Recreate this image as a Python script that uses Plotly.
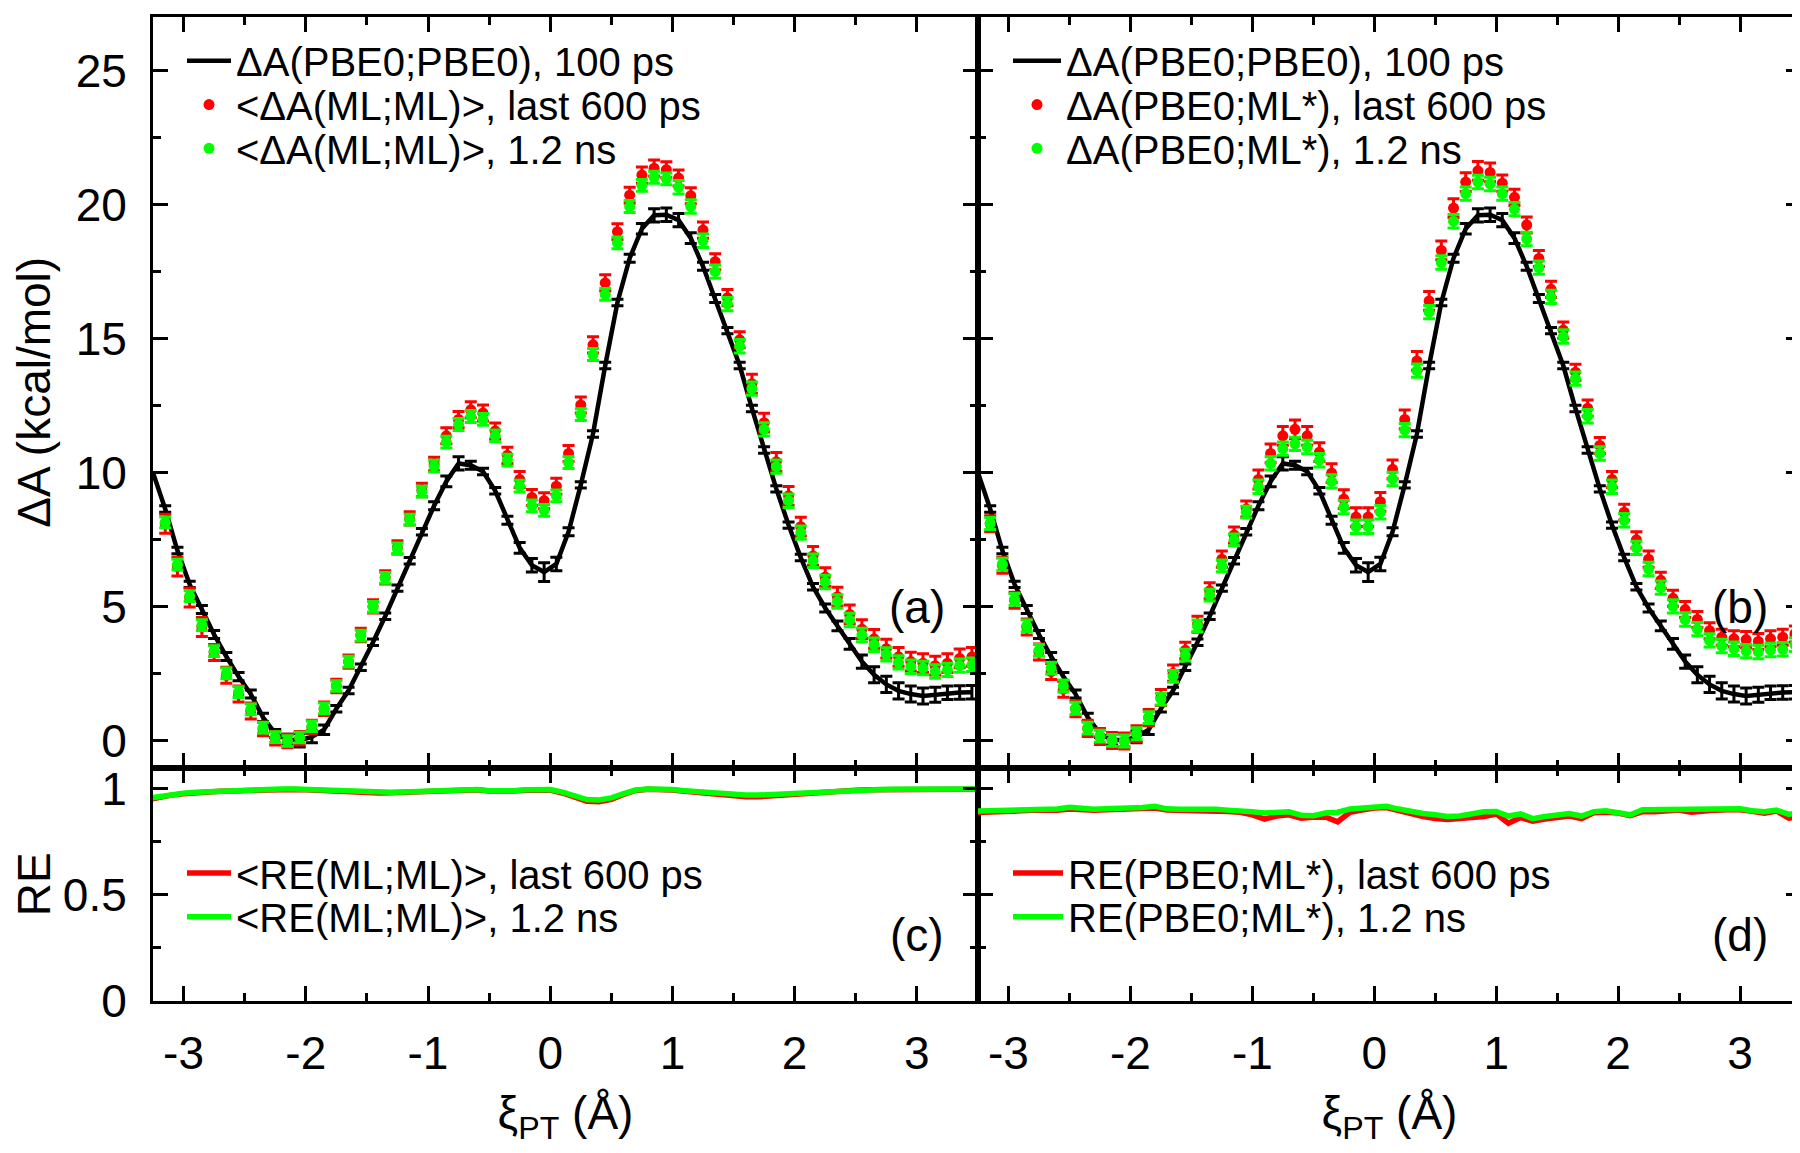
import plotly.graph_objects as go

# ---------------- data ----------------
xi = [-3.15, -3.05, -2.95, -2.85, -2.75, -2.65, -2.55, -2.45, -2.35, -2.25,
      -2.15, -2.05, -1.95, -1.85, -1.75, -1.65, -1.55, -1.45, -1.35, -1.25,
      -1.15, -1.05, -0.95, -0.85, -0.75, -0.65, -0.55, -0.45, -0.35, -0.25,
      -0.15, -0.05, 0.05, 0.15, 0.25, 0.35, 0.45, 0.55, 0.65, 0.75,
      0.85, 0.95, 1.05, 1.15, 1.25, 1.35, 1.45, 1.55, 1.65, 1.75,
      1.85, 1.95, 2.05, 2.15, 2.25, 2.35, 2.45, 2.55, 2.65, 2.75,
      2.85, 2.95, 3.05, 3.15, 3.25, 3.35, 3.45]

# Delta A(PBE0;PBE0), 100 ps  (same reference curve in both panels)
dA_pbe0 = [8.65, 7.1, 5.84, 4.9, 3.97, 3.15, 2.4, 1.75, 0.88, 0.28,
           0.05, 0.03, 0.15, 0.42, 1.2, 1.88, 2.75, 3.68, 4.65, 5.7,
           6.72, 7.8, 8.77, 9.68, 10.35, 10.28, 10.05, 9.33, 8.23, 7.2,
           6.55, 6.3, 6.6, 7.8, 9.55, 11.45, 14.0, 16.35, 18.0, 19.1,
           19.6, 19.62, 19.42, 18.75, 17.7, 16.5, 15.3, 14.0, 12.4, 10.85,
           9.4, 8.05, 6.84, 5.75, 4.96, 4.29, 3.62, 2.96, 2.47, 2.11,
           1.87, 1.75, 1.68, 1.72, 1.8, 1.81, 1.82]
dA_pbe0_err = [0.12, 0.12, 0.12, 0.15, 0.15, 0.15, 0.15, 0.15, 0.15, 0.15,
               0.2, 0.25, 0.22, 0.18, 0.12, 0.12, 0.12, 0.12, 0.12, 0.12,
               0.12, 0.12, 0.15, 0.2, 0.25, 0.15, 0.12, 0.12, 0.15, 0.2,
               0.25, 0.35, 0.25, 0.15, 0.12, 0.12, 0.12, 0.12, 0.15, 0.2,
               0.25, 0.25, 0.25, 0.2, 0.15, 0.15, 0.12, 0.12, 0.12, 0.12,
               0.12, 0.12, 0.12, 0.12, 0.15, 0.18, 0.2, 0.25, 0.3, 0.3,
               0.3, 0.3, 0.3, 0.28, 0.25, 0.25, 0.25]
# line of the reference curve continues to the left frame edge
dA_pbe0_edge_x = [-3.25]
dA_pbe0_edge_y = [10.0]

# panel (a): <Delta A(ML;ML)>
dA_mlml_600 = [8.1, 6.5, 5.35, 4.25, 3.3, 2.45, 1.75, 1.12, 0.45, 0.1,
               0.0, 0.1, 0.52, 1.2, 2.05, 2.96, 3.95, 5.02, 6.1, 7.22,
               8.3, 9.36, 10.33, 11.38, 11.99, 12.35, 12.23, 11.56, 10.65, 9.75,
               9.08, 8.96, 9.5, 10.72, 12.53, 14.77, 17.08, 18.99, 20.35, 21.1,
               21.36, 21.3, 20.99, 20.33, 19.05, 17.87, 16.53, 14.96, 13.32, 11.87,
               10.41, 9.14, 7.99, 6.9, 6.11, 5.38, 4.72, 4.17, 3.81, 3.44,
               3.14, 2.96, 2.9, 2.81, 2.9, 3.08, 3.14]
dA_mlml_600_err = [0.35, 0.35, 0.35, 0.35, 0.3, 0.3, 0.3, 0.3, 0.25, 0.25,
                   0.25, 0.25, 0.25, 0.25, 0.25, 0.25, 0.25, 0.25, 0.25, 0.25,
                   0.25, 0.25, 0.25, 0.3, 0.3, 0.3, 0.3, 0.3, 0.3, 0.3,
                   0.3, 0.3, 0.3, 0.3, 0.3, 0.3, 0.3, 0.3, 0.3, 0.3,
                   0.3, 0.3, 0.3, 0.3, 0.3, 0.3, 0.3, 0.3, 0.35, 0.35,
                   0.35, 0.35, 0.35, 0.35, 0.35, 0.35, 0.35, 0.35, 0.35, 0.35,
                   0.35, 0.35, 0.35, 0.35, 0.35, 0.35, 0.35]
dA_mlml_12 = [8.15, 6.58, 5.4, 4.32, 3.35, 2.52, 1.82, 1.18, 0.5, 0.14,
              0.0, 0.13, 0.55, 1.22, 2.05, 2.96, 3.93, 5.0, 6.08, 7.18,
              8.25, 9.3, 10.25, 11.14, 11.8, 12.1, 11.99, 11.38, 10.47, 9.5,
              8.77, 8.6, 9.14, 10.38, 12.17, 14.41, 16.65, 18.57, 19.93, 20.72,
              21.02, 20.96, 20.65, 19.93, 18.65, 17.5, 16.29, 14.72, 13.14, 11.62,
              10.23, 8.96, 7.77, 6.72, 5.93, 5.2, 4.51, 3.95, 3.59, 3.23,
              2.93, 2.77, 2.72, 2.59, 2.65, 2.81, 2.84]
dA_mlml_12_err = [0.2] * 22 + [0.22] * 20 + [0.25] * 25

# panel (b): Delta A(PBE0;ML*)
dA_pbe0ml_600 = [8.1, 6.55, 5.25, 4.25, 3.32, 2.59, 1.93, 1.2, 0.47, 0.17,
                 0.02, 0.0, 0.27, 0.87, 1.62, 2.53, 3.38, 4.35, 5.6, 6.78,
                 7.68, 8.65, 9.75, 10.72, 11.38, 11.62, 11.38, 10.77, 9.99, 9.02,
                 8.35, 8.35, 8.92, 10.13, 11.99, 14.17, 16.41, 18.29, 19.87, 20.84,
                 21.26, 21.2, 20.8, 20.27, 19.24, 17.99, 16.84, 15.32, 13.75, 12.41,
                 11.02, 9.75, 8.53, 7.5, 6.78, 5.99, 5.32, 4.9, 4.53, 4.11,
                 3.87, 3.81, 3.78, 3.71, 3.81, 3.87, 3.99]
dA_pbe0ml_600_err = [0.3] * 22 + [0.35] * 20 + [0.3] * 25
dA_pbe0ml_12 = [8.11, 6.59, 5.28, 4.29, 3.38, 2.72, 2.05, 1.22, 0.48, 0.18,
                0.02, 0.0, 0.27, 0.87, 1.56, 2.41, 3.2, 4.29, 5.44, 6.53,
                7.5, 8.53, 9.48, 10.35, 10.9, 11.08, 10.96, 10.47, 9.68, 8.72,
                7.99, 7.99, 8.53, 9.77, 11.59, 13.81, 15.99, 17.84, 19.38, 20.41,
                20.84, 20.77, 20.41, 19.83, 18.72, 17.65, 16.56, 15.08, 13.51, 12.11,
                10.72, 9.48, 8.23, 7.2, 6.41, 5.72, 5.02, 4.53, 4.17, 3.75,
                3.54, 3.44, 3.35, 3.32, 3.39, 3.42, 3.59]
dA_pbe0ml_12_err = [0.22] * 22 + [0.25] * 20 + [0.25] * 25

# RE panels
xi_re = [-3.3, -3.2, -3.1, -3.0, -2.9, -2.8, -2.7, -2.6, -2.5, -2.4,
         -2.3, -2.2, -2.1, -2.0, -1.9, -1.8, -1.7, -1.6, -1.5, -1.4,
         -1.3, -1.2, -1.1, -1.0, -0.9, -0.8, -0.7, -0.6, -0.5, -0.4,
         -0.3, -0.2, -0.1, 0.0, 0.1, 0.2, 0.3, 0.4, 0.5, 0.6,
         0.7, 0.8, 0.9, 1.0, 1.1, 1.2, 1.3, 1.4, 1.5, 1.6,
         1.7, 1.8, 1.9, 2.0, 2.1, 2.2, 2.3, 2.4, 2.5, 2.6,
         2.7, 2.8, 2.9, 3.0, 3.1, 3.2, 3.3, 3.4, 3.5]
re_mlml_12 = [0.955, 0.965, 0.975, 0.98, 0.985, 0.988, 0.991, 0.993, 0.995, 0.997,
              0.999, 1.0, 1.0, 0.998, 0.995, 0.991, 0.989, 0.987, 0.985, 0.984,
              0.985, 0.986, 0.988, 0.99, 0.993, 0.997, 1.0, 0.998, 0.992, 0.99,
              0.992, 0.996, 0.999, 0.997, 0.985, 0.965, 0.95, 0.948, 0.958, 0.978,
              0.995, 1.0, 1.0, 0.997, 0.992, 0.987, 0.982, 0.977, 0.973, 0.971,
              0.971, 0.974, 0.978, 0.982, 0.986, 0.989, 0.992, 0.994, 0.996, 0.997,
              0.998, 0.999, 1.0, 1.0, 1.0, 1.0, 1.0, 1.0, 1.0]
re_mlml_600 = [0.948, 0.96, 0.971, 0.977, 0.983, 0.986, 0.989, 0.991, 0.993, 0.995,
               0.997, 0.998, 0.998, 0.996, 0.993, 0.989, 0.986, 0.984, 0.982, 0.981,
               0.982, 0.984, 0.986, 0.988, 0.991, 0.995, 0.998, 0.996, 0.99, 0.988,
               0.99, 0.994, 0.997, 0.995, 0.981, 0.958, 0.942, 0.94, 0.951, 0.974,
               0.993, 0.999, 0.999, 0.995, 0.989, 0.983, 0.977, 0.971, 0.966, 0.963,
               0.963, 0.967, 0.972, 0.978, 0.983, 0.987, 0.99, 0.992, 0.994, 0.996,
               0.997, 0.998, 0.999, 0.999, 0.999, 0.999, 0.999, 0.999, 0.999]
re_pbe0ml_12 = [0.895, 0.896, 0.897, 0.899, 0.902, 0.904, 0.903, 0.905, 0.913, 0.906,
                0.904, 0.906, 0.908, 0.907, 0.912, 0.918, 0.906, 0.904, 0.905, 0.904,
                0.904, 0.9, 0.898, 0.892, 0.887, 0.889, 0.892, 0.876, 0.874, 0.886,
                0.89, 0.905, 0.91, 0.916, 0.918, 0.905, 0.892, 0.884, 0.878, 0.87,
                0.872, 0.884, 0.892, 0.894, 0.872, 0.882, 0.86, 0.87, 0.878, 0.884,
                0.872, 0.893, 0.897, 0.89, 0.878, 0.902, 0.903, 0.904, 0.905, 0.904,
                0.906, 0.907, 0.905, 0.906, 0.897, 0.892, 0.9, 0.88, 0.89]
re_pbe0ml_600 = [0.888, 0.889, 0.892, 0.895, 0.897, 0.9, 0.898, 0.9, 0.905, 0.9,
                 0.9, 0.902, 0.904, 0.903, 0.905, 0.91, 0.9, 0.899, 0.9, 0.9,
                 0.898, 0.893, 0.89, 0.878, 0.858, 0.872, 0.878, 0.862, 0.866, 0.868,
                 0.845, 0.89, 0.9, 0.91, 0.912, 0.896, 0.88, 0.87, 0.86, 0.856,
                 0.86, 0.865, 0.87, 0.882, 0.838, 0.865, 0.848, 0.858, 0.866, 0.872,
                 0.86, 0.888, 0.89, 0.886, 0.874, 0.893, 0.892, 0.896, 0.9, 0.89,
                 0.898, 0.9, 0.902, 0.902, 0.895, 0.885, 0.896, 0.862, 0.87]

x_tick_vals = [-3, -2, -1, 0, 1, 2, 3]
x_tick_text = ['-3', '-2', '-1', '0', '1', '2', '3']
x_minor_vals = [-2.5, -1.5, -0.5, 0.5, 1.5, 2.5, 3.5]
y_tick_vals = [0, 5, 10, 15, 20, 25]
y_tick_text = ['0', '5', '10', '15', '20', '25']
re_tick_vals = [0, 0.5, 1]
re_tick_text = ['0', '0.5', '1']

legend_text = {
    'pbe0': 'ΔA(PBE0;PBE0), 100 ps',
    'a600': '<ΔA(ML;ML)>, last 600 ps',
    'a12': '<ΔA(ML;ML)>, 1.2 ns',
    'b600': 'ΔA(PBE0;ML*), last 600 ps',
    'b12': 'ΔA(PBE0;ML*), 1.2 ns',
    'c600': '<RE(ML;ML)>, last 600 ps',
    'c12': '<RE(ML;ML)>, 1.2 ns',
    'd600': 'RE(PBE0;ML*), last 600 ps',
    'd12': 'RE(PBE0;ML*), 1.2 ns',
}

# ---------------- style / layout ----------------
FONT = 'Liberation Sans, Arial, Helvetica, sans-serif'
W, H = 1800, 1153
L, M, R = 145, 970, 1793
T, S, B = 5, 776, 1015
RED = '#ff0000'
GREEN = '#00ff00'
LEG_FS = 40
TICK_FS = 46

fig = go.Figure()


def esc(s):
    return s.replace('<', '&lt;').replace('>', '&gt;')


def add_panel(xa, ya, ml_600, ml_600_err, ml_12, ml_12_err, leg_ids, names):
    fig.add_trace(go.Scatter(
        x=dA_pbe0_edge_x + xi, y=dA_pbe0_edge_y + dA_pbe0, mode='lines',
        line=dict(color='black', width=4.5), name=esc(legend_text['pbe0']),
        xaxis=xa, yaxis=ya, legend=leg_ids[0], hoverinfo='skip'))
    fig.add_trace(go.Scatter(
        x=xi, y=dA_pbe0, mode='markers', marker=dict(size=2, color='black', opacity=0),
        error_y=dict(type='data', array=dA_pbe0_err, visible=True, color='black',
                     thickness=3, width=6),
        showlegend=False, xaxis=xa, yaxis=ya, hoverinfo='skip'))
    fig.add_trace(go.Scatter(
        x=xi, y=ml_600, mode='markers', marker=dict(size=11, color=RED),
        error_y=dict(type='data', array=ml_600_err, visible=True, color=RED,
                     thickness=3, width=6),
        name=esc(names[0]), xaxis=xa, yaxis=ya, legend=leg_ids[1]))
    fig.add_trace(go.Scatter(
        x=xi, y=ml_12, mode='markers', marker=dict(size=11, color=GREEN),
        error_y=dict(type='data', array=ml_12_err, visible=True, color=GREEN,
                     thickness=3, width=6),
        name=esc(names[1]), xaxis=xa, yaxis=ya, legend=leg_ids[2]))


add_panel('x', 'y', dA_mlml_600, dA_mlml_600_err, dA_mlml_12, dA_mlml_12_err,
          ['legend', 'legend2', 'legend3'], [legend_text['a600'], legend_text['a12']])
add_panel('x2', 'y2', dA_pbe0ml_600, dA_pbe0ml_600_err, dA_pbe0ml_12, dA_pbe0ml_12_err,
          ['legend4', 'legend5', 'legend6'], [legend_text['b600'], legend_text['b12']])

for xa, ya, r600, r12, lids, k in [('x3', 'y3', re_mlml_600, re_mlml_12, ['legend7', 'legend8'], 'c'),
                                   ('x4', 'y4', re_pbe0ml_600, re_pbe0ml_12, ['legend9', 'legend10'], 'd')]:
    fig.add_trace(go.Scatter(x=xi_re, y=r600, mode='lines', line=dict(color=RED, width=5.5),
                             name=esc(legend_text[k + '600']), xaxis=xa, yaxis=ya, legend=lids[0]))
    fig.add_trace(go.Scatter(x=xi_re, y=r12, mode='lines', line=dict(color=GREEN, width=5.5),
                             name=esc(legend_text[k + '12']), xaxis=xa, yaxis=ya, legend=lids[1]))

tickfont = dict(size=TICK_FS, family=FONT, color='black')
common = dict(showline=True, linewidth=3, linecolor='black', mirror='ticks',
              ticks='inside', ticklen=15, tickwidth=2.5, tickcolor='black',
              showgrid=False, zeroline=False, tickfont=tickfont, layer='above traces')


def xaxis(domain, anchor, labels, title=None):
    d = dict(common, domain=domain, anchor=anchor, range=[-3.25, 3.5],
             tickmode='array', tickvals=x_tick_vals, ticktext=x_tick_text,
             showticklabels=labels, ticklabelstandoff=10,
             minor=dict(ticks='inside', ticklen=8, tickwidth=2.5, tickcolor='black',
                        tickmode='array', tickvals=x_minor_vals, showgrid=False))
    if title:
        d['title'] = dict(text=title, font=dict(size=TICK_FS, family=FONT, color='black'), standoff=20)
    return d


def yaxis(domain, anchor, rng, vals, text, minor_dtick, labels, title=None):
    d = dict(common, domain=domain, anchor=anchor, range=rng,
             tickmode='array', tickvals=vals, ticktext=text, showticklabels=labels,
             ticklabelstandoff=14,
             minor=dict(ticks='inside', ticklen=8, tickwidth=2.5, tickcolor='black',
                        dtick=minor_dtick, tick0=0, showgrid=False))
    if title:
        d['title'] = dict(text=title, font=dict(size=TICK_FS, family=FONT, color='black'), standoff=20)
    return d


xl = [L / W, M / W]
xr = [M / W, R / W]
yt = [1 - S / H, 1 - T / H]
yb = [1 - B / H, 1 - S / H]
xtitle = 'ξ<sub>PT</sub> (Å)'

layout = dict(
    width=W, height=H, margin=dict(l=0, r=0, t=0, b=0),
    paper_bgcolor='white', plot_bgcolor='rgba(0,0,0,0)',
    font=dict(family=FONT, color='black'),
    xaxis=xaxis(xl, 'y', False), yaxis=yaxis(yt, 'x', [-1, 27], y_tick_vals, y_tick_text, 2.5, True, 'ΔA (kcal/mol)'),
    xaxis2=xaxis(xr, 'y2', False), yaxis2=yaxis(yt, 'x2', [-1, 27], y_tick_vals, y_tick_text, 2.5, False),
    xaxis3=xaxis(xl, 'y3', True, xtitle), yaxis3=yaxis(yb, 'x3', [0, 1.1], re_tick_vals, re_tick_text, 0.25, True, 'RE'),
    xaxis4=xaxis(xr, 'y4', True, xtitle), yaxis4=yaxis(yb, 'x4', [0, 1.1], re_tick_vals, re_tick_text, 0.25, False),
)


def leg(xpx, ypx, iw):
    return dict(x=xpx / W, y=1 - ypx / H, xref='paper', yref='paper', xanchor='left', yanchor='middle',
                bgcolor='rgba(0,0,0,0)', borderwidth=0, itemwidth=iw,
                font=dict(size=LEG_FS, family=FONT, color='black'))


layout['legend'] = leg(174, 50, 44)
layout['legend2'] = leg(174, 95, 44)
layout['legend3'] = leg(174, 140, 44)
layout['legend4'] = leg(1000, 50, 48)
layout['legend5'] = leg(1000, 95, 48)
layout['legend6'] = leg(1000, 140, 48)
layout['legend7'] = leg(174, 884, 44)
layout['legend8'] = leg(174, 929, 44)
layout['legend9'] = leg(1000, 884, 50)
layout['legend10'] = leg(1000, 929, 50)

fig.update_layout(**layout)

for txt, xa, ya, yv in [('(a)', 'x', 'y', 5.0), ('(b)', 'x2', 'y2', 5.0),
                        ('(c)', 'x3', 'y3', 0.31), ('(d)', 'x4', 'y4', 0.31)]:
    fig.add_annotation(text=txt, x=3.0, y=yv, xref=xa, yref=ya, showarrow=False,
                       xanchor='center', yanchor='middle',
                       font=dict(size=TICK_FS, family=FONT, color='black'))

fig.write_html('out.html')
